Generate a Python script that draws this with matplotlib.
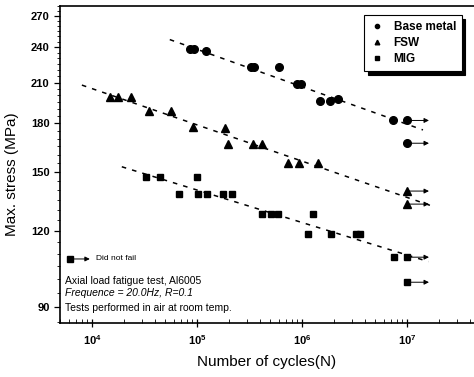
import numpy as np
import matplotlib
matplotlib.use("Agg")
import matplotlib.pyplot as plt
from matplotlib.ticker import FixedLocator, FuncFormatter, LogLocator, NullFormatter

plt.rcParams['font.family'] = ['Liberation Sans', 'DejaVu Sans']
plt.rcParams['mathtext.fontset'] = 'custom'
plt.rcParams['mathtext.rm'] = 'Liberation Sans'
plt.rcParams['mathtext.bf'] = 'Liberation Sans:bold'
plt.rcParams['mathtext.it'] = 'Liberation Sans:italic'

# base metal (failed)
base_N = [8.6e4, 9.4e4, 1.22e5, 3.25e5, 3.5e5, 6.0e5, 8.9e5, 9.7e5, 1.5e6, 1.84e6, 2.2e6, 7.4e6]
base_S = [238, 238, 237, 223, 223, 223, 209, 209, 196, 196, 197, 182]
base_run_N = [1e7, 1e7]
base_run_S = [182, 167]
base_fit_N = [5.5e4, 1.42e7]
base_fit_S = [247, 175.6]

# FSW
fsw_N = [1.48e4, 1.78e4, 2.35e4, 3.47e4, 5.65e4, 9.1e4, 1.85e5, 1.99e5, 3.44e5, 4.13e5, 7.3e5, 9.4e5, 1.43e6]
fsw_S = [199, 199, 199, 188.6, 188.6, 177.7, 177.2, 166.5, 166.5, 166.5, 154.8, 154.8, 154.8]
fsw_run_N = [1e7, 1e7]
fsw_run_S = [139.4, 132.7]
fsw_fit_N = [8.0e3, 1.72e7]
fsw_fit_S = [208, 131.8]

# MIG
mig_N = [3.27e4, 4.44e4, 1.0e5, 6.78e4, 1.03e5, 1.24e5, 1.78e5, 2.14e5, 4.13e5, 5.03e5,
         5.95e5, 1.28e6, 1.13e6, 1.89e6, 3.27e6, 3.57e6, 7.6e6]
mig_S = [147, 147, 147, 138, 138, 138, 138, 138, 128, 128,
         128, 128, 118.5, 118.5, 118.5, 118.5, 108.6]
mig_run_N = [1e7, 1e7]
mig_run_S = [108.6, 98.8]
mig_fit_N = [1.92e4, 1.6e7]
mig_fit_S = [152.8, 106.8]

y_ticks = [90, 120, 150, 180, 210, 240, 270]
notes = ["Axial load fatigue test, Al6005",
         "Frequence = 20.0Hz, R=0.1",
         "Tests performed in air at room temp."]

fig = plt.figure(figsize=(4.74, 3.77), dpi=100)
ax = fig.add_axes([60 / 474, 54 / 377, 414 / 474, 317 / 377])
ax.set_xscale('log')
ax.set_yscale('log')
ax.set_xlim(4.95e3, 4.35e7)
ax.set_ylim(84.7, 280.4)

arrow_len = 1.62


def draw_series(N, S, run_N, run_S, fit_N, fit_S, marker, ms, label):
    ax.plot(fit_N, fit_S, color='k', lw=1.1, dashes=(3, 4))
    ax.plot(N, S, linestyle='none', marker=marker, color='k', ms=ms, label=label)
    ax.plot(run_N, run_S, linestyle='none', marker=marker, color='k', ms=ms)
    for n, s in zip(run_N, run_S):
        ax.annotate('', xy=(n * arrow_len, s), xytext=(n, s),
                    arrowprops=dict(arrowstyle='-|>', color='k', lw=0.7,
                                    mutation_scale=7, shrinkA=0, shrinkB=0))


draw_series(base_N, base_S, base_run_N, base_run_S, base_fit_N, base_fit_S, 'o', 5.5, 'Base metal')
draw_series(fsw_N, fsw_S, fsw_run_N, fsw_run_S, fsw_fit_N, fsw_fit_S, '^', 6, 'FSW')
draw_series(mig_N, mig_S, mig_run_N, mig_run_S, mig_fit_N, mig_fit_S, 's', 4.5, 'MIG')

leg = ax.legend(loc='upper right', bbox_to_anchor=(0.985, 0.99), frameon=True,
                fancybox=False, shadow={'color': 'k', 'alpha': 1.0, 'ox': 2.5, 'oy': -2.5},
                edgecolor='k', markerscale=0.55, handlelength=1.2, handletextpad=0.8,
                labelspacing=0.35, borderpad=0.5,
                prop={'weight': 'bold', 'size': 8.5})
leg.get_frame().set_linewidth(0.8)

# "did not fail" key
ax.plot([0.024], [0.202], marker='s', color='k', ms=4.5, transform=ax.transAxes)
ax.annotate('', xy=(0.072, 0.202), xytext=(0.024, 0.202), xycoords='axes fraction',
            arrowprops=dict(arrowstyle='-|>', color='k', lw=0.7, mutation_scale=7,
                            shrinkA=0, shrinkB=0))
ax.text(0.087, 0.202, 'Did not fail', transform=ax.transAxes, fontsize=6, va='center')

ax.text(0.012, 0.132, notes[0], transform=ax.transAxes, fontsize=7.5, va='center')
ax.text(0.012, 0.095, notes[1], transform=ax.transAxes, fontsize=7.5, va='center', style='italic')
ax.text(0.012, 0.047, notes[2], transform=ax.transAxes, fontsize=7.5, va='center')

# ticks
ax.yaxis.set_major_locator(FixedLocator(y_ticks))
ax.yaxis.set_major_formatter(FuncFormatter(lambda v, p: '%d' % v))
ax.yaxis.set_minor_locator(FixedLocator(np.arange(85, 281, 5)))
ax.yaxis.set_minor_formatter(NullFormatter())
ax.xaxis.set_major_locator(LogLocator(base=10))
ax.xaxis.set_minor_locator(LogLocator(base=10, subs=np.arange(2, 10)))
ax.xaxis.set_minor_formatter(NullFormatter())
ax.xaxis.set_major_formatter(FuncFormatter(lambda v, p: r'$\mathbf{10^{%d}}$' % round(np.log10(v))))

ax.tick_params(axis='y', which='major', direction='out', length=4, width=0.9, labelsize=8)
ax.tick_params(axis='y', which='minor', direction='out', length=2, width=0.6)
ax.tick_params(axis='x', which='major', direction='inout', length=6, width=0.9, labelsize=8, pad=4)
ax.tick_params(axis='x', which='minor', direction='in', length=3, width=0.6)
for lbl in ax.get_yticklabels():
    lbl.set_fontweight('bold')

ax.spines['right'].set_visible(False)
for sp in ['left', 'bottom', 'top']:
    ax.spines[sp].set_linewidth(1.2)

ax.set_xlabel('Number of cycles(N)', fontsize=11, labelpad=6)
ax.set_ylabel('Max. stress (MPa)', fontsize=11)
ax.yaxis.set_label_coords(-0.098, 0.47)

fig.savefig('out.png', dpi=100)
